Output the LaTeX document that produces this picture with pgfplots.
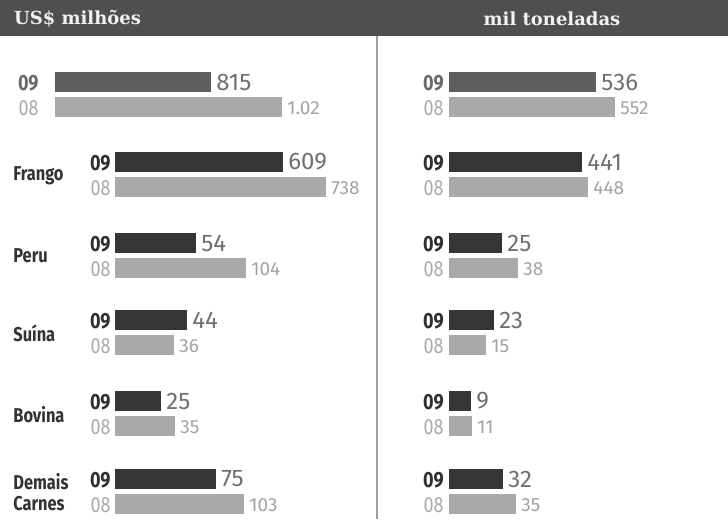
\documentclass[border=0pt]{standalone}
\usepackage{fontspec}
\setmainfont{Fira Sans}
\newfontfamily\condfont[FakeStretch=0.82]{Fira Sans}
\newfontfamily\slabfont{DejaVu Serif}
\usepackage{pgfplots}
\pgfplotsset{compat=1.18}
\definecolor{headbg}{HTML}{4F4F4F}
\definecolor{headtext}{HTML}{F2F2F2}
\definecolor{darkbar}{HTML}{353535}
\definecolor{totbar}{HTML}{5E5E5E}
\definecolor{lightbar}{HTML}{A9A9A9}
\definecolor{num09}{HTML}{707070}
\definecolor{num08}{HTML}{A3A3A3}
\definecolor{lab09}{HTML}{303030}
\definecolor{labtot}{HTML}{6A6A6A}
\definecolor{lab08}{HTML}{ABABAB}
\definecolor{catcol}{HTML}{333333}
\definecolor{sepcol}{HTML}{A0A0A0}
\tikzset{y09/.style={anchor=east, inner sep=0pt, text=lab09, font=\condfont\bfseries\fontsize{11}{11}\selectfont},
         ytot/.style={anchor=east, inner sep=0pt, text=labtot, font=\condfont\bfseries\fontsize{11}{11}\selectfont},
         y08/.style={anchor=east, inner sep=0pt, text=lab08, font=\condfont\fontsize{11}{11}\selectfont},
         cat/.style={anchor=west, inner sep=0pt, align=left, text=catcol, font=\condfont\bfseries\fontsize{10}{10.5}\selectfont}}
\begin{document}
\begin{tikzpicture}
\begin{axis}[hide axis, scale only axis, width=364pt, height=259.5pt,
  xmin=0, xmax=728, ymin=0, ymax=519, y dir=reverse, clip=false]
\fill[white] (axis cs:0,0) rectangle (axis cs:728,519);
\fill[headbg] (axis cs:0,0) rectangle (axis cs:728,36);
\node[anchor=west, font=\slabfont\bfseries\fontsize{9}{10}\selectfont, text=headtext] at (axis cs:7,19) {US\$ milhões};
\node[font=\slabfont\bfseries\fontsize{9}{10}\selectfont, text=headtext] at (axis cs:552,19) {mil toneladas};
\draw[sepcol, line width=1.2pt] (axis cs:377,36) -- (axis cs:377,519);

% totals 09
\addplot[line width=10pt, color=totbar, unbounded coords=jump] coordinates {
(55,82) (211,82) (nan,nan) (449,82) (596,82)};
% categories 09
\addplot[line width=10pt, color=darkbar, unbounded coords=jump] coordinates {
(115,162) (283,162) (nan,nan)
(115,243) (196,243) (nan,nan)
(115,320) (187,320) (nan,nan)
(115,401) (161,401) (nan,nan)
(115,479) (216,479) (nan,nan)
(449,162) (582,162) (nan,nan)
(449,243) (502,243) (nan,nan)
(449,320) (494,320) (nan,nan)
(449,401) (471,401) (nan,nan)
(449,479) (503,479)};
% 08
\addplot[line width=10pt, color=lightbar, unbounded coords=jump] coordinates {
(55,107) (282,107) (nan,nan)
(115,187) (326,187) (nan,nan)
(115,268) (246,268) (nan,nan)
(115,345) (174,345) (nan,nan)
(115,426) (175,426) (nan,nan)
(115,504) (244,504) (nan,nan)
(449,107) (615,107) (nan,nan)
(449,187) (588,187) (nan,nan)
(449,268) (518,268) (nan,nan)
(449,345) (486,345) (nan,nan)
(449,426) (472,426) (nan,nan)
(449,504) (516,504)};

% value labels 09
\addplot[draw=none, nodes near coords, point meta=explicit symbolic,
  nodes near coords align={horizontal},
  every node near coord/.append style={anchor=west, inner sep=1pt, xshift=1.5pt, text=num09, font=\fontsize{12}{12}\selectfont}]
  table[meta=label, row sep=\\] {
x y label\\
211 82 815\\
283 162 609\\
196 243 54\\
187 320 44\\
161 401 25\\
216 479 75\\
596 82 536\\
582 162 441\\
502 243 25\\
494 320 23\\
471 401 9\\
503 479 32\\
};
% value labels 08
\addplot[draw=none, nodes near coords, point meta=explicit symbolic,
  nodes near coords align={horizontal},
  every node near coord/.append style={anchor=west, inner sep=1pt, xshift=1.5pt, text=num08, font=\fontsize{9.5}{10}\selectfont}]
  table[meta=label, row sep=\\] {
x y label\\
282 108 1.02\\
326 188 738\\
246 269 104\\
174 346 36\\
175 427 35\\
244 505 103\\
615 108 552\\
588 188 448\\
518 269 38\\
486 346 15\\
472 427 11\\
516 505 35\\
};

% year labels
\node[ytot] at (axis cs:39,83) {09};
\node[y08] at (axis cs:39,108) {08};
\node[ytot] at (axis cs:444,83) {09};
\node[y08] at (axis cs:444,108) {08};
\node[y09] at (axis cs:111,163) {09};
\node[y09] at (axis cs:111,244) {09};
\node[y09] at (axis cs:111,321) {09};
\node[y09] at (axis cs:111,402) {09};
\node[y09] at (axis cs:111,480) {09};
\node[y09] at (axis cs:444,163) {09};
\node[y09] at (axis cs:444,244) {09};
\node[y09] at (axis cs:444,321) {09};
\node[y09] at (axis cs:444,402) {09};
\node[y09] at (axis cs:444,480) {09};
\node[y08] at (axis cs:111,188) {08};
\node[y08] at (axis cs:111,269) {08};
\node[y08] at (axis cs:111,346) {08};
\node[y08] at (axis cs:111,427) {08};
\node[y08] at (axis cs:111,505) {08};
\node[y08] at (axis cs:444,188) {08};
\node[y08] at (axis cs:444,269) {08};
\node[y08] at (axis cs:444,346) {08};
\node[y08] at (axis cs:444,427) {08};
\node[y08] at (axis cs:444,505) {08};
\node[cat] at (axis cs:13,176) {Frango};
\node[cat] at (axis cs:13,256) {Peru};
\node[cat] at (axis cs:13,333) {Suína};
\node[cat] at (axis cs:13,415) {Bovina};
\node[cat] at (axis cs:13,492) {Demais\\Carnes};
\end{axis}
\end{tikzpicture}
\end{document}
